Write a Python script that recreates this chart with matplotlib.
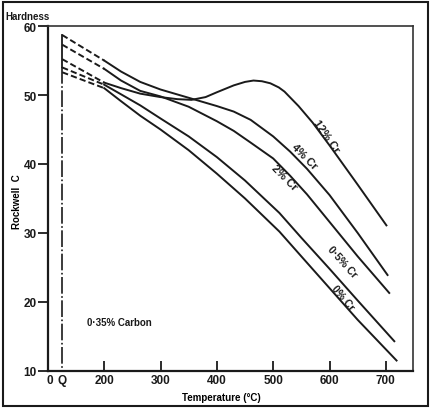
import numpy as np
import matplotlib
matplotlib.use("Agg")
import matplotlib.pyplot as plt
from matplotlib.patches import Rectangle

plt.rcParams["font.family"] = ["Liberation Sans", "DejaVu Sans"]

# Q = as-quenched position on the temperature axis
Q_POS = 125.5

# dashed extrapolation from the quenched hardness to ~200 C
dash_t = [Q_POS, 200]
dash_12cr = [55.2, 51.8]
dash_4cr = [58.7, 55.0]
dash_2cr = [57.3, 53.8]
dash_05cr = [54.0, 51.5]
dash_0cr = [53.3, 51.0]

# measured tempering curves (temperature C, Rockwell C)
t_12cr = [200, 230, 264, 300, 330, 355, 380, 400, 430, 450, 465, 480, 495, 510, 520, 545, 570, 600, 650, 701]
h_12cr = [51.8, 51.0, 50.2, 49.7, 49.4, 49.3, 49.7, 50.4, 51.4, 51.9, 52.1, 52.0, 51.7, 51.1, 50.5, 48.4, 46.0, 42.7, 37.0, 31.1]

t_4cr = [200, 230, 264, 300, 350, 400, 430, 460, 500, 530, 560, 600, 650, 703]
h_4cr = [55.0, 53.4, 51.9, 50.8, 49.6, 48.4, 47.6, 46.4, 44.0, 41.8, 39.3, 35.5, 30.0, 23.9]

t_2cr = [200, 230, 264, 300, 350, 400, 430, 460, 500, 530, 560, 600, 650, 706]
h_2cr = [53.8, 52.1, 50.6, 49.8, 48.3, 46.2, 44.8, 43.1, 40.8, 38.3, 35.6, 31.6, 26.6, 21.3]

t_05cr = [200, 230, 264, 300, 350, 400, 450, 511, 550, 600, 650, 715]
h_05cr = [51.5, 50.1, 48.5, 46.6, 44.0, 41.0, 37.6, 32.9, 29.3, 24.8, 20.2, 14.3]

t_0cr = [200, 230, 264, 300, 350, 400, 450, 511, 550, 600, 650, 719]
h_0cr = [51.0, 49.1, 47.0, 45.0, 42.0, 38.6, 35.0, 30.2, 26.6, 22.0, 17.4, 11.5]

curve_labels = ["12% Cr", "4% Cr", "2% Cr", "0·5% Cr", "0% Cr"]
label_t = [595, 555, 519, 622, 624]
label_h = [44.1, 41.2, 38.1, 25.9, 20.7]
label_rot = [-55, -45, -45, -48, -50]
label_size = [8, 8, 8, 7.5, 7.5]

x_ticks = [200, 300, 400, 500, 600, 700]
y_ticks = [10, 20, 30, 40, 50, 60]

fig = plt.figure(figsize=(4.31, 4.10), dpi=100)
ax = fig.add_axes([0.111, 0.093, 0.847, 0.841])

ink = "#1a1a1a"
lw = 1.4

for dh in [dash_12cr, dash_4cr, dash_2cr, dash_05cr, dash_0cr]:
    ax.plot(dash_t, dh, color=ink, lw=lw, dashes=(3.2, 1.6))

for t, h in [(t_12cr, h_12cr), (t_4cr, h_4cr), (t_2cr, h_2cr),
             (t_05cr, h_05cr), (t_0cr, h_0cr)]:
    ax.plot(t, h, color=ink, lw=lw, solid_joinstyle="round")

# quench line: solid over the range of quenched hardness, dash-dot below
q_top = max(dash_4cr[0], dash_2cr[0], dash_12cr[0])
q_low = dash_05cr[0]
ax.plot([Q_POS, Q_POS], [q_top, q_low], color=ink, lw=1.3)
ax.plot([Q_POS, Q_POS], [q_low, 10], color=ink, lw=1.2, dashes=(10, 1.5, 1, 1.5))

for lab, t, h, r, fs in zip(curve_labels, label_t, label_h, label_rot, label_size):
    ax.text(t, h, lab, rotation=r, rotation_mode="anchor", ha="center", va="center",
            fontsize=fs, fontweight="bold", color=ink)

ax.text(170, 16.6, "0·35% Carbon", fontsize=7, fontweight="bold", color=ink)

ax.set_xlim(100, 748)
ax.set_ylim(10, 60)
ax.set_xticks([104, Q_POS] + x_ticks)
ax.set_xticklabels(["0", "Q"] + [str(v) for v in x_ticks])
ax.set_yticks(y_ticks)
ax.tick_params(direction="in", length=7, width=1.3, labelsize=8.5, colors=ink, pad=2)
ax.tick_params(axis="y", direction="out", length=7, pad=1)
for tk in ax.xaxis.get_major_ticks()[:2]:
    tk.tick1line.set_visible(False)
for lbl in ax.get_xticklabels() + ax.get_yticklabels():
    lbl.set_fontweight("bold")

for side in ["left", "bottom"]:
    ax.spines[side].set_linewidth(1.6)
    ax.spines[side].set_color(ink)
for side in ["top", "right"]:
    ax.spines[side].set_linewidth(1.2)
    ax.spines[side].set_color("#333333")

ax.set_xlabel("Temperature (°C)", fontsize=7, fontweight="bold")
ax.xaxis.set_label_coords(0.474, -0.062)
ax.set_ylabel("Rockwell  C", fontsize=7, fontweight="bold")
ax.yaxis.set_label_coords(-0.071, 0.493)
fig.text(0.012, 0.951, "Hardness", fontsize=7, fontweight="bold", color=ink)

fig.patches.append(Rectangle((3 / 431, 3 / 410), 425 / 431, 404 / 410,
                             transform=fig.transFigure, fill=False,
                             edgecolor=ink, lw=1.5))

fig.savefig("out.png", dpi=100)
